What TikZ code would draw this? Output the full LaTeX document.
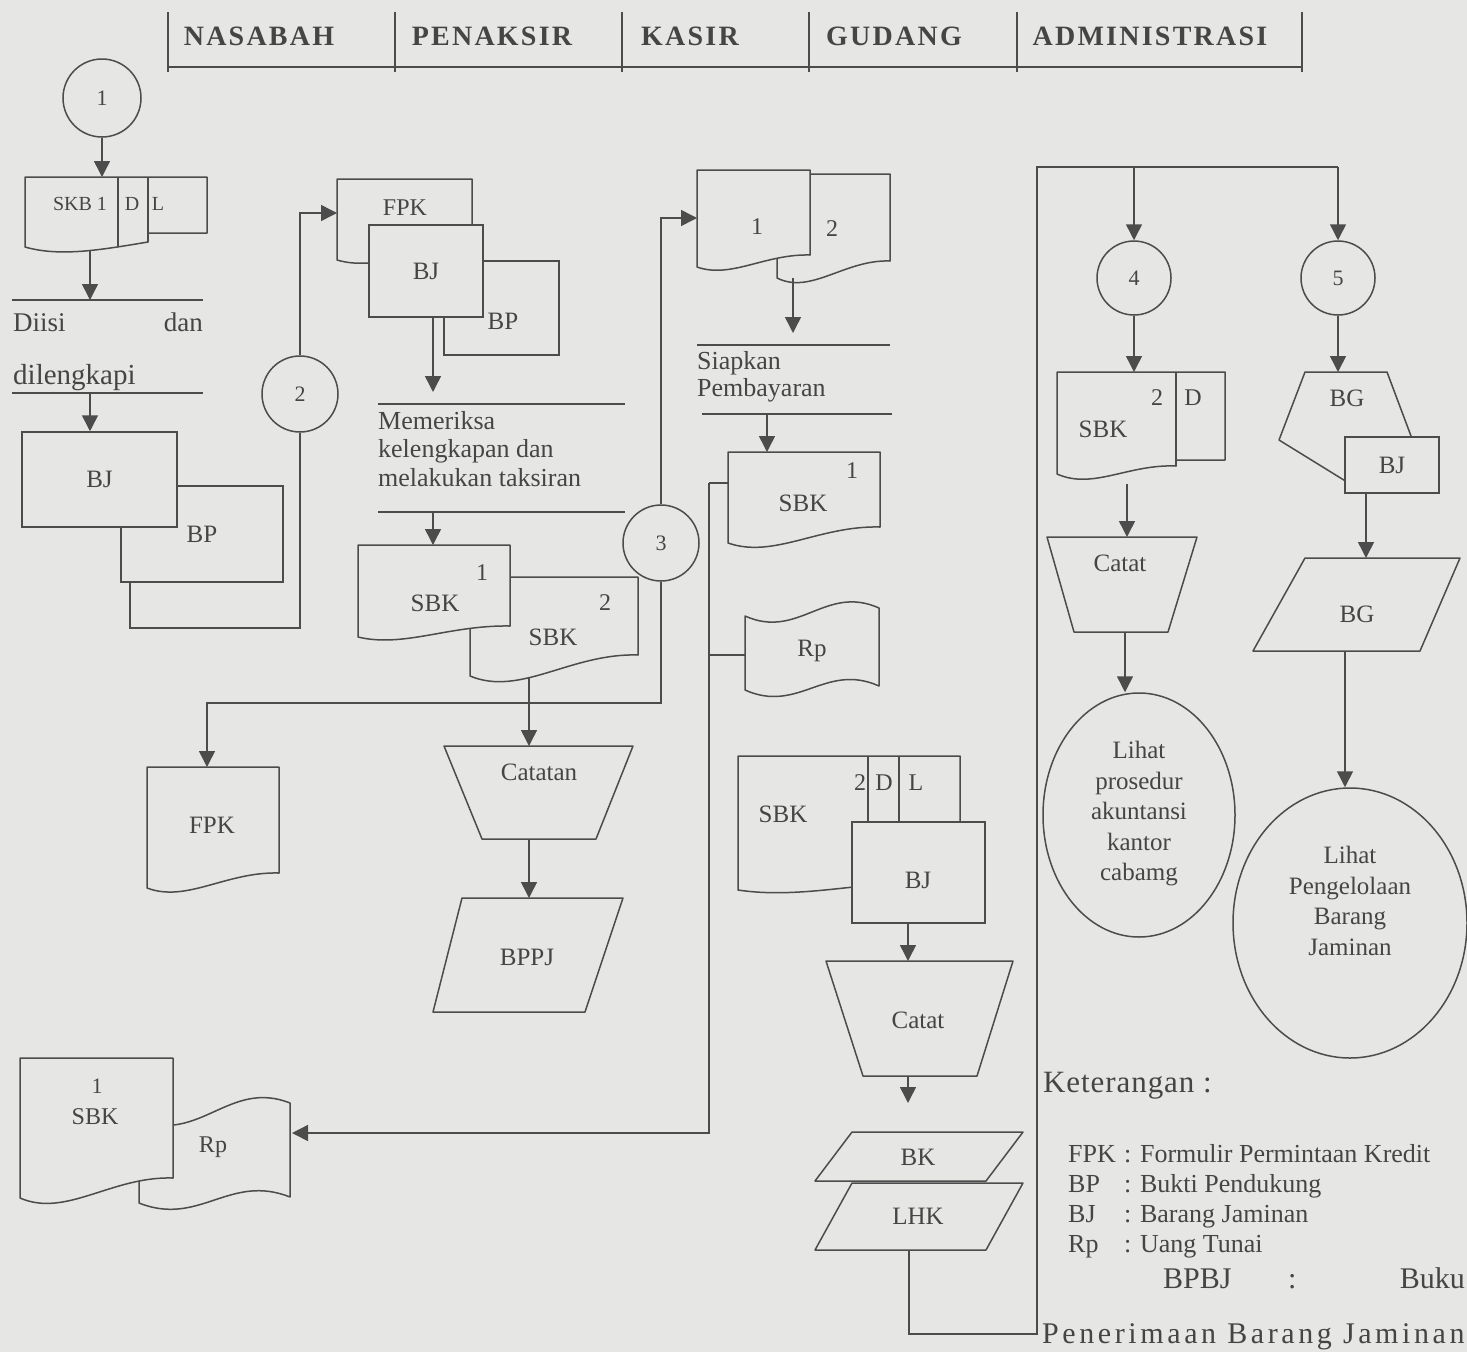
\documentclass[tikz,border=0pt]{standalone}
\usepackage{fontspec}
\setmainfont{Liberation Serif}
\usetikzlibrary{arrows.meta,calc,shapes.geometric}
\definecolor{bgc}{HTML}{E6E6E4}
\definecolor{lc}{HTML}{4C4C4C}
\definecolor{tc}{HTML}{454545}
\newcommand{\fsz}[1]{\fontsize{#1}{#1}\selectfont}
% document symbol: x1, ytop, x2, y right-bottom, y left-bottom
\newcommand{\docshape}[6][]{%
 \draw[shp,#1] (#2,#3) -- (#4,#3) -- (#4,#5) .. controls ({#2+0.6*(#4-#2)},{#5-0.1*(#6-#5)}) and ({#2+0.3*(#4-#2)},{#6+1.0*(#6-#5)}) .. (#2,#6) -- cycle;}
% punched tape: x1, ytop-left, x2, ytop-right, ybottom-left, ybottom-right, amplitude
\newcommand{\tapeshape}[7]{%
 \draw[shp] (#1,#2) .. controls ({#1+0.4*(#3-#1)},{#2+#7}) and ({#1+0.6*(#3-#1)},{#4-#7}) .. (#3,#4) -- (#3,#6) .. controls ({#1+0.6*(#3-#1)},{#6-#7}) and ({#1+0.4*(#3-#1)},{#5+#7}) .. (#1,#5) -- cycle;}
\begin{document}
\begin{tikzpicture}[x=1pt,y=-1pt,
 ln/.style={draw=lc,line width=1.5pt},
 shp/.style={draw=lc,line width=1.5pt,fill=bgc,line join=round},
 arr/.style={draw=lc,line width=1.5pt,-{Triangle[length=16pt,width=16pt]}},
 lbl/.style={text=tc,inner sep=0pt,font=\fsz{25}},
 cnode/.style={circle,draw=lc,line width=1.5pt,fill=bgc,minimum size=#1,inner sep=0pt,text=tc,font=\fsz{22}},
 cnode/.default=76pt,
 hdr/.style={text=tc,inner sep=0pt,anchor=base,font=\fsz{28}\bfseries\addfontfeatures{LetterSpace=8}},
 boxn/.style={draw=lc,line width=1.5pt,fill=bgc,inner sep=0pt,text=tc,font=\fsz{25}},
 ell/.style={ellipse,draw=lc,line width=1.5pt,fill=bgc,inner sep=0pt},
 multi/.style={text=tc,inner sep=0pt,align=center,font=\fontsize{25}{30.5}\selectfont},
 leg/.style={text=tc,inner sep=0pt,anchor=base west,font=\fsz{26}},
]
\useasboundingbox (0,0) rectangle (1467,1352);
\fill[bgc] (0,0) rectangle (1467,1352);

% ---------------- header ----------------
\draw[ln,line width=1.3pt] (168,67) -- (1302,67);
\foreach \x in {168,395,622,809,1017,1302} \draw[ln,line width=1.3pt] (\x,12) -- (\x,72);
\node[hdr] (hN) at (259,45) {NASABAH};
\node[hdr] (hP) at (492,45) {PENAKSIR};
\node[hdr] (hK) at (690,45) {KASIR};
\node[hdr] (hG) at (894,45) {GUDANG};
\node[hdr] (hA) at (1150,45) {ADMINISTRASI};

% ---------------- NASABAH ----------------
\node[cnode=78pt] (c1) at (102,98) {1};
\draw[shp] (25,177) -- (207,177) -- (207,233) -- (148,233) -- (148,242) .. controls (100,250) and (60,257) .. (25,247) -- cycle;
\draw[ln] (118,177) -- (118,246);
\draw[ln] (148,177) -- (148,242);
\node[lbl,font=\fsz{20}] (skb) at (80,204) {SKB 1};
\node[lbl,font=\fsz{20}] (skbD) at (132,204) {D};
\node[lbl,font=\fsz{20}] (skbL) at (158,204) {L};
\coordinate (skbN) at (102,177);
\coordinate (skbS) at (90,250);
\draw[arr] (c1) -- (skbN);
\coordinate (p1top) at (90,300);
\coordinate (p1bot) at (90,393);
\draw[arr] (skbS) -- (p1top);
\draw[ln] (12,300) -- (203,300);
\draw[ln] (12,393) -- (203,393);
\node[lbl,anchor=base west,font=\fsz{27}] (p1a) at (13,331) {Diisi};
\node[lbl,anchor=base east,font=\fsz{27}] (p1b) at (203,331) {dan};
\node[lbl,anchor=base west,font=\fsz{29}] (p1c) at (13,384) {dilengkapi};
\node[boxn,minimum width=162pt,minimum height=96pt] (bp1) at (202,534) {BP};
\node[boxn,minimum width=155pt,minimum height=95pt] (bj1) at (99.5,479.5) {BJ};
\draw[arr] (p1bot) -- (p1bot |- bj1.north);
\node[cnode] (c2) at (300,394) {2};
\coordinate (fpkW) at (337,213);
\draw[ln] (130,0 |- bp1.south) -- (130,628) -- (300,628) -- (c2.south);
\draw[arr] (c2.north) -- (300,213) -- (fpkW);

% ---------------- PENAKSIR ----------------
\docshape{337}{179}{472}{248}{260}
\node[lbl,font=\fsz{24}] (fpk1) at (405,208) {FPK};
\node[boxn,minimum width=115pt,minimum height=94pt] (bp2) at (501.5,308) {};
\node[lbl] (bp2t) at (503,321) {BP};
\node[boxn,minimum width=114pt,minimum height=92pt] (bj2) at (426,271) {BJ};
\coordinate (p2top) at (433,392);
\draw[arr] (433,0 |- bj2.south) -- (p2top);
\draw[ln] (378,404) -- (625,404);
\draw[ln] (378,512) -- (625,512);
\node[lbl,anchor=base west,font=\fsz{26}] (p2a) at (378,429) {Memeriksa};
\node[lbl,anchor=base west,font=\fsz{26}] (p2b) at (378,457) {kelengkapan dan};
\node[lbl,anchor=base west,font=\fsz{26}] (p2c) at (378,486) {melakukan taksiran};
\coordinate (p2bot) at (433,512);
\coordinate (sbk1N) at (433,545);
\draw[arr] (p2bot) -- (sbk1N);
\docshape{470}{577}{638}{655}{676}
\docshape{358}{545}{510}{626}{637}
\node[lbl,font=\fsz{24}] (s1n) at (482,573) {1};
\node[lbl] (s1t) at (435,603) {SBK};
\node[lbl,font=\fsz{24}] (s2n) at (605,603) {2};
\node[lbl] (s2t) at (553,637) {SBK};
\node[cnode] (c3) at (661,543) {3};
\coordinate (doc1W) at (697,218);
\draw[arr] (c3.north) -- (661,218) -- (doc1W);
\coordinate (fpk2N) at (207,767);
\draw[arr] (c3.south) -- (661,703) -- (207,703) -- (fpk2N);
\draw[shp] (444,746) -- (633,746) -- (596,839) -- (482,839) -- cycle;
\node[lbl] (cat1) at (539,772) {Catatan};
\coordinate (sbk2S) at (529,678);
\coordinate (cat1N) at (529,746);
\coordinate (cat1S) at (529,839);
\coordinate (bppjN) at (529,898);
\draw[arr] (sbk2S) -- (cat1N);
\draw[arr] (cat1S) -- (bppjN);
\draw[shp] (462,898) -- (623,898) -- (585,1012) -- (433,1012) -- cycle;
\node[lbl] (bppj) at (527,957) {BPPJ};
\docshape{147}{767}{279}{873}{888}
\node[lbl] (fpk2) at (212,825) {FPK};

% Nasabah bottom (SBK + Rp)
\tapeshape{139}{1120}{290}{1103}{1203}{1197}{24}
\docshape{20}{1058}{173}{1178}{1198}
\node[lbl,font=\fsz{22}] (s3n) at (97,1086) {1};
\node[lbl,font=\fsz{24}] (s3t) at (95,1117) {SBK};
\node[lbl,font=\fsz{24}] (rp1) at (213,1147) {Rp};
\coordinate (rp1E) at (292,1133);

% ---------------- KASIR ----------------
\docshape{777}{174}{890}{261}{278}
\docshape{697}{170}{810}{255}{267}
\node[lbl,font=\fsz{24}] (k1) at (757,227) {1};
\node[lbl,font=\fsz{24}] (k2) at (832,229) {2};
\coordinate (kdS) at (793,278);
\coordinate (p3top) at (793,333);
\draw[arr] (kdS) -- (p3top);
\draw[ln] (697,345) -- (890,345);
\draw[ln] (702,414) -- (892,414);
\node[lbl,anchor=base west,font=\fsz{26}] (p3a) at (697,369) {Siapkan};
\node[lbl,anchor=base west,font=\fsz{26}] (p3b) at (697,396) {Pembayaran};
\coordinate (p3bot) at (767,414);
\coordinate (sbkkN) at (767,452);
\draw[arr] (p3bot) -- (sbkkN);
\docshape{728}{452}{880}{527}{543}
\node[lbl,font=\fsz{24}] (kn) at (852,471) {1};
\node[lbl] (kt) at (803,503) {SBK};
\tapeshape{745}{616}{879}{608}{690}{686}{24}
\node[lbl] (rp2) at (812,651) {Rp};
\coordinate (sbkkW) at (728,483);
\coordinate (rp2W) at (745,655);
\draw[ln] (sbkkW) -- (709,483);
\draw[ln] (rp2W) -- (709,655);
\draw[arr] (709,483) -- (709,1133) -- (rp1E);

% ---------------- GUDANG ----------------
\docshape{738}{756}{960}{880}{890}
\draw[ln] (868,756) -- (868,822);
\draw[ln] (899,756) -- (899,822);
\node[lbl,font=\fsz{24}] (g2) at (860,783) {2};
\node[lbl,font=\fsz{24}] (gD) at (884,783) {D};
\node[lbl,font=\fsz{24}] (gL) at (916,783) {L};
\node[lbl] (gS) at (783,814) {SBK};
\node[boxn,minimum width=133pt,minimum height=101pt] (bj3) at (918.5,872.5) {};
\node[lbl] (bj3t) at (918,880) {BJ};
\coordinate (cat2N) at (908,961);
\draw[arr] (908,0 |- bj3.south) -- (cat2N);
\draw[shp] (826,961) -- (1013,961) -- (977,1076) -- (863,1076) -- cycle;
\node[lbl] (cat2) at (918,1020) {Catat};
\coordinate (cat2S) at (908,1076);
\coordinate (bkN) at (908,1103);
\draw[arr] (cat2S) -- (bkN);
\draw[shp] (852,1132) -- (1023,1132) -- (986,1181) -- (815,1181) -- cycle;
\node[lbl] (bk) at (918,1157) {BK};
\draw[shp] (852,1183) -- (1023,1183) -- (986,1250) -- (815,1250) -- cycle;
\node[lbl] (lhk) at (918,1216) {LHK};
\coordinate (lhkS) at (909,1250);

% ---------------- ADMINISTRASI ----------------
\node[cnode=74pt] (c4) at (1134,278) {4};
\node[cnode=74pt] (c5) at (1338,278) {5};
\draw[ln] (lhkS) -- (909,1334) -- (1037,1334) -- (1037,167) -- (1338,167);
\draw[arr] (1134,167) -- (c4.north);
\draw[arr] (1338,167) -- (c5.north);
\coordinate (sbkaN) at (1134,372);
\draw[arr] (c4.south) -- (sbkaN);
\draw[shp] (1057,372) -- (1225,372) -- (1225,460) -- (1176,460) -- (1176,466) .. controls (1128,464) and (1093,490) .. (1057,474) -- cycle;
\draw[ln] (1176,372) -- (1176,466);
\node[lbl,font=\fsz{24}] (a2) at (1157,398) {2};
\node[lbl,font=\fsz{24}] (aD) at (1193,398) {D};
\node[lbl] (aS) at (1103,429) {SBK};
\coordinate (sbkaS) at (1127,484);
\coordinate (cat3N) at (1127,537);
\draw[arr] (sbkaS) -- (cat3N);
\draw[shp] (1047,537) -- (1197,537) -- (1168,632) -- (1074,632) -- cycle;
\node[lbl] (cat3) at (1120,563) {Catat};
\node[ell,minimum width=192pt,minimum height=244pt] (e1) at (1139,815) {};
\node[multi] (e1t) at (1139,814) {Lihat\\prosedur\\akuntansi\\kantor\\cabamg};
\coordinate (cat3S) at (1125,632);
\draw[arr] (cat3S) -- (1125,0 |- e1.north);

\draw[shp] (1305,372) -- (1387,372) -- (1420,460) -- (1360,490) -- (1279,440) -- cycle;
\node[lbl] (bg1) at (1347,398) {BG};
\coordinate (bg1N) at (1338,372);
\draw[arr] (c5.south) -- (bg1N);
\node[boxn,minimum width=94pt,minimum height=56pt] (bj4) at (1392,465) {BJ};
\coordinate (bg2N) at (1366,558);
\draw[arr] (1366,0 |- bj4.south) -- (bg2N);
\draw[shp] (1305,558) -- (1460,558) -- (1420,651) -- (1253,651) -- cycle;
\node[lbl] (bg2) at (1357,614) {BG};
\node[ell,minimum width=234pt,minimum height=270pt] (e2) at (1350,923) {};
\node[multi] (e2t) at (1350,901) {Lihat\\Pengelolaan\\Barang\\Jaminan};
\coordinate (bg2S) at (1345,651);
\draw[arr] (bg2S) -- (e2.north -| bg2S);

% ---------------- legend ----------------
\node[leg,font=\fsz{31}\addfontfeatures{LetterSpace=3}] (ket) at (1043,1092) {Keterangan :};
\node[leg] (l1) at (1068,1162) {FPK};
\node[leg] (l2) at (1068,1192) {BP};
\node[leg] (l3) at (1068,1222) {BJ};
\node[leg] (l4) at (1068,1252) {Rp};
\node[leg] (l1t) at (1124,1162) {: Formulir Permintaan Kredit};
\node[leg] (l2t) at (1124,1192) {: Bukti Pendukung};
\node[leg] (l3t) at (1124,1222) {: Barang Jaminan};
\node[leg] (l4t) at (1124,1252) {: Uang Tunai};
\node[leg,font=\fsz{30}] (l5) at (1163,1288) {BPBJ};
\node[leg,font=\fsz{30}] (l5c) at (1288,1288) {:};
\node[leg,anchor=base east,font=\fsz{30}] (l5b) at (1465,1288) {Buku};
\node[leg,font=\fsz{30}\addfontfeatures{LetterSpace=12}] (l6) at (1042,1343) {Penerimaan Barang Jaminan};
\end{tikzpicture}
\end{document}
